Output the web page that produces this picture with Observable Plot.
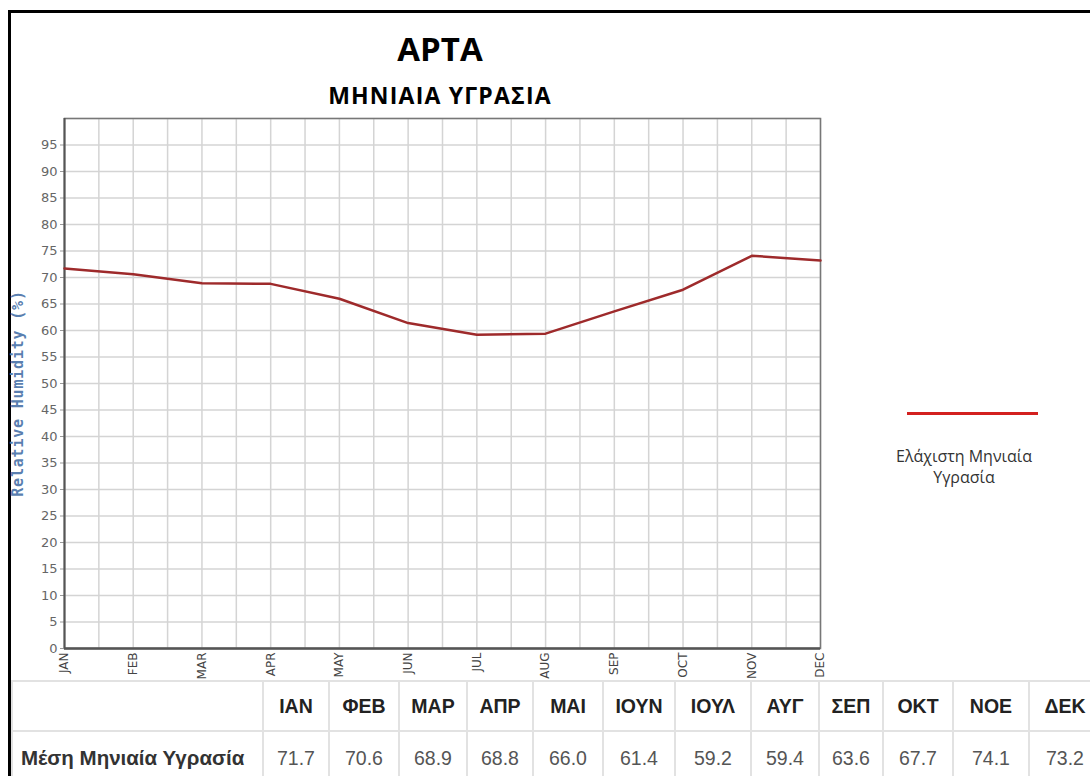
<!DOCTYPE html>
<html><head><meta charset="utf-8">
<script src="https://cdn.jsdelivr.net/npm/d3@7"></script>
<script src="https://cdn.jsdelivr.net/npm/@observablehq/plot@0.6"></script>
<style>
html,body{margin:0;padding:0}
body{width:1090px;height:776px;overflow:hidden;background:#fff;position:relative;font-family:"Liberation Sans",Arial,sans-serif}
#pageframe{position:absolute;left:8px;top:10px;width:1200px;height:900px;border-left:3px solid #000;border-top:3px solid #000;box-sizing:border-box}
#title{position:absolute;left:0;width:880px;top:32px;text-align:center;font:bold 33px/33px "Open Sans",sans-serif;color:#000}
#subtitle{position:absolute;left:0;width:880px;top:84px;text-align:center;font:bold 23px/23px "Open Sans",sans-serif;letter-spacing:1.2px;color:#000}
#chart{position:absolute;left:0;top:100px}
#legline{position:absolute;left:907px;top:412px;width:131px;height:3px;background:#d3201f}
#legtext{position:absolute;left:864px;width:200px;top:446px;text-align:center;font:16px/21px "Open Sans",sans-serif;color:#333}
#tbl{position:absolute;left:11px;top:680px;border-collapse:collapse;font-size:19.5px;table-layout:fixed}
#tbl td,#tbl th{border:2px solid #e2e2e2;padding:0;text-align:center;white-space:nowrap;overflow:visible}
#tbl tr.h{height:50px}
#tbl tr.v{height:54px}
#tbl th{font-weight:bold;color:#222}
#tbl td{color:#555}
#tbl td.lab{font-weight:bold;color:#333;text-align:left;padding-left:8px;font-size:20.5px}
</style></head>
<body>
<div id="pageframe"></div>
<div id="title">ΑΡΤΑ</div>
<div id="subtitle">ΜΗΝΙΑΙΑ ΥΓΡΑΣΙΑ</div>
<div id="chart"></div>
<div id="legline"></div>
<div id="legtext">Ελάχιστη Μηνιαία<br>Υγρασία</div>
<table id="tbl"></table>
<script>
const monthsEn = ["JAN","FEB","MAR","APR","MAY","JUN","JUL","AUG","SEP","OCT","NOV","DEC"];
const monthsGr = ["ΙΑΝ","ΦΕΒ","ΜΑΡ","ΑΠΡ","ΜΑΙ","ΙΟΥΝ","ΙΟΥΛ","ΑΥΓ","ΣΕΠ","ΟΚΤ","ΝΟΕ","ΔΕΚ"];
const humidity = [71.7,70.6,68.9,68.8,66.0,61.4,59.2,59.4,63.6,67.7,74.1,73.2];
const yTicks = [0,5,10,15,20,25,30,35,40,45,50,55,60,65,70,75,80,85,90,95];
const rowLabel = "Μέση Μηνιαία Υγρασία";
const yLabel = "Relative Humidity (%)";

const data = monthsEn.map((m, i) => ({i, m, v: humidity[i]}));
const monthIdx = monthsEn.map((m, i) => i);
const halfGrid = d3.range(0, 11.001, 0.5);
const yGrid = d3.range(0, 100.001, 5);

const chart = Plot.plot({
  width: 830, height: 580,
  marginLeft: 64, marginRight: 10, marginTop: 18, marginBottom: 32,
  style: {background: "transparent", overflow: "visible"},
  x: {type: "linear", domain: [0, 11], axis: null},
  y: {domain: [0, 100], axis: null},
  marks: [
    Plot.gridX(halfGrid, {stroke: "#d4d4d4", strokeOpacity: 1, strokeWidth: 1.5}),
    Plot.gridY(yGrid, {stroke: "#d4d4d4", strokeOpacity: 1, strokeWidth: 1.5}),
    Plot.axisY(yTicks, {tickSize: 4, tickPadding: 3, fontSize: 13, fill: "#666", stroke: "#999", label: null, fontFamily: "DejaVu Sans"}),
    Plot.axisX(monthIdx, {tickFormat: i => monthsEn[i], tickRotate: -90, tickSize: 0, tickPadding: 4, fontSize: 12, fill: "#444", label: null, fontFamily: "DejaVu Sans"}),
    Plot.frame({stroke: "#777", strokeWidth: 1.5}),
    Plot.ruleX([0], {stroke: "#555", strokeWidth: 2}),
    Plot.ruleY([0], {stroke: "#555", strokeWidth: 2.5}),
    Plot.line(data, {x: "i", y: "v", stroke: "#9e2a2b", strokeWidth: 2.5}),
    Plot.text([yLabel], {frameAnchor: "left", textAnchor: "middle", rotate: -90, dx: -46, dy: 10, fontSize: 15, fontWeight: "bold", fontFamily: "DejaVu Sans Mono", fill: "#5a7fb0"})
  ]
});
document.getElementById("chart").append(chart);
d3.select(chart).selectAll("text").filter(function(){return this.textContent === yLabel;}).style("letter-spacing", "0.8px");

// table
const widths = [251, 66, 70, 68, 66, 70, 72, 76, 68, 64, 70, 76, 72];
const tbl = d3.select("#tbl").style("width", d3.sum(widths) + "px");
const cg = tbl.append("colgroup");
widths.forEach(w => cg.append("col").style("width", w + "px"));
const hr = tbl.append("tr").attr("class", "h");
hr.append("th").html("");
monthsGr.forEach(m => hr.append("th").text(m));
const vr = tbl.append("tr").attr("class", "v");
vr.append("td").attr("class", "lab").text(rowLabel);
humidity.forEach(v => vr.append("td").text(v.toFixed(1)));
</script>
</body></html>
